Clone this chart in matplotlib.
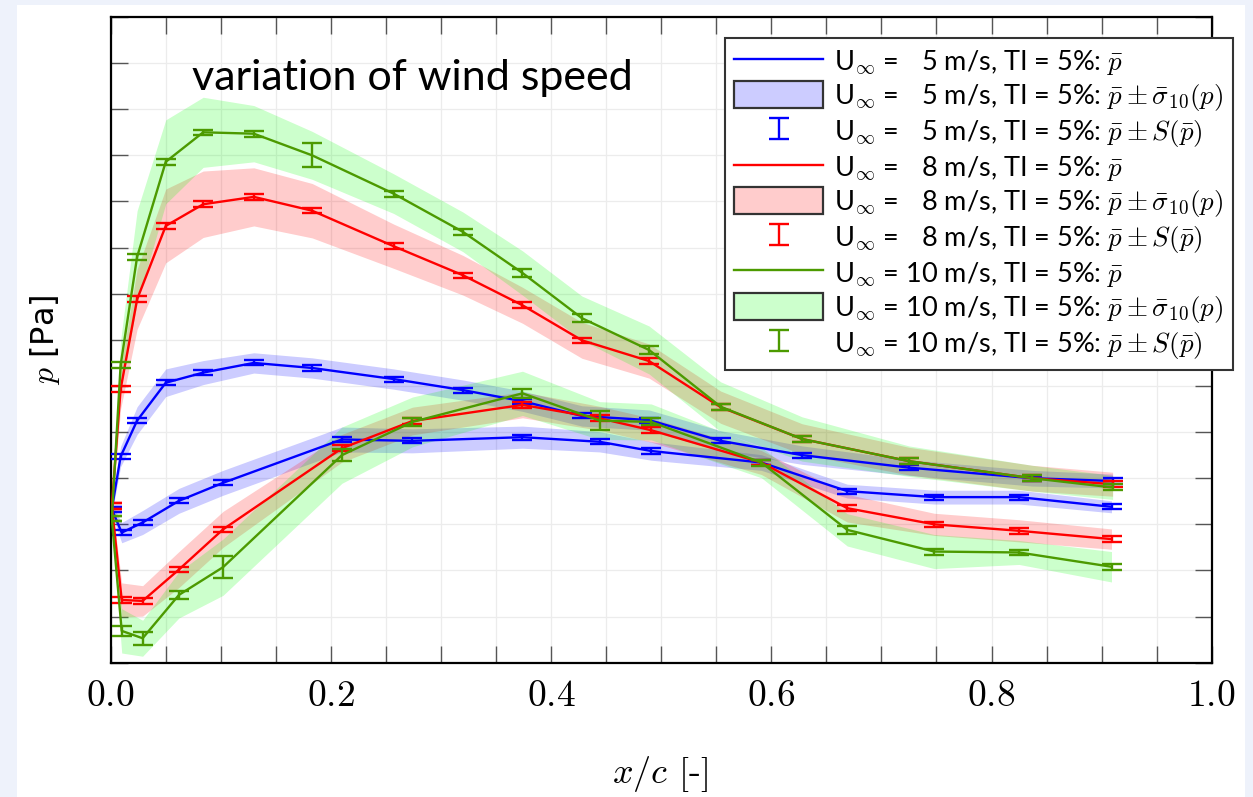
import numpy as np
import matplotlib
matplotlib.use("Agg")
import matplotlib.pyplot as plt
from matplotlib.patches import Patch, Rectangle
from matplotlib.ticker import MultipleLocator, NullFormatter
from matplotlib.legend_handler import HandlerErrorbar
from matplotlib.container import ErrorbarContainer

plt.rcParams['mathtext.fontset'] = 'cm'
plt.rcParams['font.family'] = ['Lato', 'DejaVu Sans']

# chordwise stations, suction (upper) and pressure (lower) side
x_up = [0.001, 0.009, 0.024, 0.050, 0.084, 0.130, 0.183, 0.257, 0.320, 0.374, 0.428,
        0.489, 0.554, 0.628, 0.725, 0.837, 0.910]
x_lo = [0.001, 0.010, 0.029, 0.062, 0.102, 0.210, 0.274, 0.374, 0.444, 0.491, 0.591,
        0.669, 0.748, 0.825, 0.909]

# U = 5 m/s
p5_up = [3.33, 4.47, 5.25, 6.07, 6.29, 6.50, 6.39, 6.15, 5.91, 5.67, 5.35, 5.26, 4.81,
         4.50, 4.23, 4.00, 3.94]
p5_lo = [3.33, 2.82, 3.04, 3.51, 3.90, 4.84, 4.81, 4.89, 4.79, 4.59, 4.34, 3.72, 3.59,
         3.59, 3.38]
sig5_up = [0.11, 0.22, 0.30, 0.30, 0.26, 0.22, 0.22, 0.22, 0.22, 0.22, 0.22, 0.22, 0.22,
           0.20, 0.17, 0.17, 0.15]
sig5_lo = [0.11, 0.22, 0.26, 0.27, 0.27, 0.27, 0.26, 0.24, 0.22, 0.20, 0.17, 0.15, 0.15,
           0.15, 0.13]
err5_up = [0.055, 0.055, 0.055, 0.055, 0.055, 0.055, 0.055, 0.055, 0.055, 0.055, 0.055,
           0.055, 0.055, 0.055, 0.055, 0.055, 0.055]
err5_lo = [0.055, 0.055, 0.055, 0.055, 0.055, 0.055, 0.055, 0.055, 0.055, 0.055, 0.055,
           0.055, 0.055, 0.055, 0.055]

# U = 8 m/s
p8_up = [3.40, 5.93, 7.88, 9.47, 9.94, 10.10, 9.80, 9.03, 8.40, 7.75, 6.99, 6.54, 5.54,
         4.85, 4.37, 4.00, 3.87]
p8_lo = [3.40, 1.36, 1.34, 2.02, 2.89, 4.65, 5.24, 5.59, 5.30, 5.04, 4.34, 3.35, 3.00,
         2.86, 2.68]
sig8_up = [0.11, 0.43, 0.65, 0.80, 0.72, 0.63, 0.59, 0.48, 0.43, 0.39, 0.39, 0.37, 0.35,
           0.33, 0.30, 0.28, 0.26]
sig8_lo = [0.11, 0.37, 0.33, 0.39, 0.39, 0.30, 0.30, 0.28, 0.26, 0.26, 0.26, 0.30, 0.24,
           0.24, 0.22]
err8_up = [0.06, 0.06, 0.06, 0.06, 0.06, 0.06, 0.06, 0.06, 0.06, 0.06, 0.06, 0.06, 0.06,
           0.06, 0.06, 0.06, 0.06]
err8_lo = [0.06, 0.06, 0.06, 0.06, 0.06, 0.06, 0.06, 0.06, 0.06, 0.06, 0.06, 0.06, 0.06,
           0.06, 0.06]

# U = 10 m/s
p10_up = [3.13, 6.45, 8.80, 10.86, 11.50, 11.47, 11.00, 10.17, 9.34, 8.45, 7.47, 6.78,
          5.55, 4.85, 4.37, 4.00, 3.80]
p10_lo = [3.13, 0.69, 0.53, 1.47, 2.07, 4.50, 5.22, 5.84, 5.25, 5.22, 4.34, 2.88, 2.41,
          2.39, 2.08]
sig10_up = [0.13, 0.54, 1.00, 0.91, 0.76, 0.61, 0.52, 0.43, 0.43, 0.48, 0.48, 0.52, 0.54,
            0.48, 0.33, 0.28, 0.26]
sig10_lo = [0.13, 0.48, 0.39, 0.50, 0.61, 0.61, 0.54, 0.48, 0.41, 0.39, 0.33, 0.35, 0.37,
            0.26, 0.33]
err10_up = [0.05, 0.065, 0.065, 0.065, 0.05, 0.065, 0.26, 0.065, 0.065, 0.087, 0.087,
            0.087, 0.065, 0.065, 0.065, 0.065, 0.065]
err10_lo = [0.05, 0.11, 0.14, 0.087, 0.24, 0.13, 0.087, 0.10, 0.21, 0.076, 0.065, 0.087,
            0.065, 0.055, 0.065]

speeds = ['\u20075', '\u20078', '10']
colors = ['#0000ff', '#ff0000', '#4c9a00']
bands = [(0, 0, 1, 0.2), (1, 0, 0, 0.2), (0, 1, 0, 0.2)]

series = [
    (p5_up, p5_lo, sig5_up, sig5_lo, err5_up, err5_lo),
    (p8_up, p8_lo, sig8_up, sig8_lo, err8_up, err8_lo),
    (p10_up, p10_lo, sig10_up, sig10_lo, err10_up, err10_lo),
]

fig = plt.figure(figsize=(12.53, 7.97), dpi=100, facecolor='#eef2fb')
fig.add_artist(Rectangle((17 / 1253, 0), (1245 - 17) / 1253, (797 - 5) / 797,
                         transform=fig.transFigure, facecolor='white', edgecolor='none',
                         zorder=-10))
ax = fig.add_axes([110.7 / 1253, 1 - 662.7 / 797, 1101 / 1253, 645.7 / 797])

handles = []
labels = []
for i, (pu, pl, su, sl, eu, el) in enumerate(series):
    for xs, p, s in [(x_up, pu, su), (x_lo, pl, sl)]:
        p = np.array(p)
        s = np.array(s)
        ax.fill_between(xs, p - s, p + s, color=bands[i], lw=0, zorder=1)

for i, (pu, pl, su, sl, eu, el) in enumerate(series):
    c = colors[i]
    ln, = ax.plot(x_up, pu, color=c, lw=1.7, zorder=3 + i)
    ax.plot(x_lo, pl, color=c, lw=1.7, zorder=3 + i)
    eb = ax.errorbar(x_up, pu, yerr=eu, fmt='none', ecolor=c, elinewidth=1.7,
                     capsize=7, capthick=1.7, zorder=3 + i)
    ax.errorbar(x_lo, pl, yerr=el, fmt='none', ecolor=c, elinewidth=1.7,
                capsize=7, capthick=1.7, zorder=3 + i)
    patch = Patch(facecolor=bands[i], edgecolor='#333333', lw=1.6)
    pre = 'U$_\\infty$ = ' + speeds[i] + ' m/s, TI = 5%: '
    handles += [ln, patch, eb]
    labels += [pre + r'$\bar{p}$',
               pre + r'$\bar{p} \pm \bar{\sigma}_{10}(p)$',
               pre + r'$\bar{p} \pm S(\bar{p})$']

ax.set_xlim(0, 1)
ax.set_ylim(0, 14)
ax.xaxis.set_major_locator(MultipleLocator(0.2))
ax.xaxis.set_minor_locator(MultipleLocator(0.05))
ax.yaxis.set_major_locator(MultipleLocator(1))
ax.set_xticklabels([f'${v:.1f}$' for v in ax.get_xticks()])
ax.yaxis.set_major_formatter(NullFormatter())
ax.tick_params(which='both', direction='in', length=12, width=1, color='#555555',
               top=True, right=True)
ax.tick_params(axis='x', labelsize=27, pad=10)
ax.grid(True, which='both', color='#ececec', lw=0.9, zorder=0)
ax.set_axisbelow(True)
for sp in ax.spines.values():
    sp.set_linewidth(1.6)

ax.set_xlabel('$x/c$ [-]', fontsize=26, family='cmr10')
ax.xaxis.set_label_coords(0.499, -0.172)
ax.xaxis.label.set_va('center')
ax.set_ylabel('$p$ [Pa]', fontsize=23, family='DejaVu Sans')
ax.yaxis.set_label_coords(-0.06, 0.5)
ax.yaxis.label.set_va('center')

fig.text(412 / 1253, 1 - 78 / 797, 'variation of wind speed', fontsize=31,
         ha='center', va='center')

leg = ax.legend(handles, labels, loc='upper right',
                bbox_to_anchor=(1233 / 1253, 1 - 38 / 797), bbox_transform=fig.transFigure,
                fancybox=False, edgecolor='#333333', framealpha=1, fontsize=19.5,
                handlelength=3.3, handleheight=1.15, labelspacing=0.16, borderpad=0.35,
                handletextpad=0.4, borderaxespad=0,
                handler_map={ErrorbarContainer: HandlerErrorbar(xerr_size=0.38)})
leg.get_frame().set_linewidth(1.5)
leg.set_zorder(10)

fig.savefig('out.png', dpi=100, facecolor=fig.get_facecolor())
